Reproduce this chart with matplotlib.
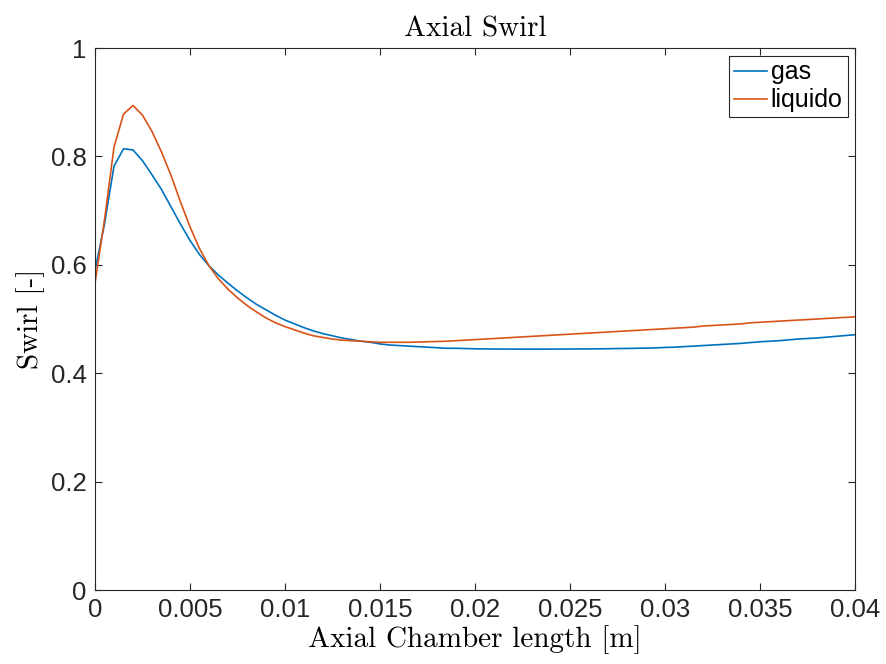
import numpy as np
import matplotlib.pyplot as plt

# axial positions [m], sampled every 0.5 mm
x = np.round(np.arange(0, 81) * 0.0005, 5)

swirl_gas = [
    0.590, 0.675, 0.782, 0.814, 0.812, 0.792, 0.766, 0.739, 0.707, 0.675,
    0.645, 0.619, 0.598, 0.581, 0.566, 0.552, 0.539, 0.527, 0.517, 0.507,
    0.498, 0.491, 0.484, 0.478, 0.473, 0.469, 0.465, 0.462, 0.459, 0.457,
    0.454, 0.452, 0.451, 0.450, 0.449, 0.448, 0.447, 0.446, 0.446, 0.4455,
    0.445, 0.4448, 0.4446, 0.4445, 0.4445, 0.4444, 0.4444, 0.4444, 0.4445, 0.4445,
    0.4446, 0.4447, 0.4448, 0.445, 0.4452, 0.4455, 0.4457, 0.446, 0.4463, 0.4467,
    0.4475, 0.448, 0.449, 0.450, 0.451, 0.452, 0.453, 0.454, 0.455, 0.4565,
    0.458, 0.459, 0.460, 0.4615, 0.463, 0.464, 0.465, 0.4665, 0.468, 0.4695,
    0.471,
]

swirl_liq = [
    0.566, 0.683, 0.817, 0.878, 0.894, 0.876, 0.846, 0.808, 0.765, 0.716,
    0.670, 0.630, 0.598, 0.574, 0.555, 0.539, 0.525, 0.513, 0.502, 0.493,
    0.486, 0.480, 0.474, 0.469, 0.466, 0.463, 0.461, 0.460, 0.459, 0.458,
    0.457, 0.457, 0.457, 0.457, 0.4575, 0.458, 0.4585, 0.459, 0.460, 0.461,
    0.462, 0.463, 0.464, 0.465, 0.466, 0.467, 0.468, 0.469, 0.470, 0.471,
    0.472, 0.473, 0.474, 0.475, 0.476, 0.477, 0.478, 0.479, 0.480, 0.481,
    0.482, 0.483, 0.484, 0.485, 0.487, 0.488, 0.489, 0.490, 0.491, 0.493,
    0.494, 0.495, 0.496, 0.497, 0.498, 0.499, 0.500, 0.501, 0.502, 0.503,
    0.504,
]

xticks = [0, 0.005, 0.01, 0.015, 0.02, 0.025, 0.03, 0.035, 0.04]
xtick_labels = ["0", "0.005", "0.01", "0.015", "0.02", "0.025", "0.03", "0.035", "0.04"]
yticks = [0, 0.2, 0.4, 0.6, 0.8, 1]
ytick_labels = ["0", "0.2", "0.4", "0.6", "0.8", "1"]

plt.rcParams["font.family"] = ["Liberation Sans", "DejaVu Sans"]
serif = ["cmr10", "DejaVu Serif"]
axcol = "#262626"

fig = plt.figure(figsize=(8.86, 6.64), dpi=100)
ax = fig.add_axes([95 / 886, 74 / 664, 760 / 886, 542 / 664])

ax.plot(x, swirl_gas, color="#0072BD", lw=1.2, label="gas")
ax.plot(x, swirl_liq, color="#D95319", lw=1.2, label="liquido")

ax.set_xlim(0, 0.04)
ax.set_ylim(0, 1)
ax.set_xticks(xticks)
ax.set_xticklabels(xtick_labels)
ax.set_yticks(yticks)
ax.set_yticklabels(ytick_labels)
ax.tick_params(direction="in", length=5, width=0.8, colors=axcol,
               labelsize=18.5, top=True, right=True, pad=6)
for s in ax.spines.values():
    s.set_color(axcol)
    s.set_linewidth(0.8)

ax.set_title("Axial Swirl", family=serif, fontsize=21, pad=8)
ax.set_xlabel("Axial Chamber length [m]", family=serif, fontsize=21, labelpad=2)
ax.set_ylabel("Swirl [-]", family=serif, fontsize=21, labelpad=4)

leg = ax.legend(loc="upper right", fontsize=18, fancybox=False, framealpha=1,
                handlelength=1.3, handletextpad=0.15, borderpad=0.2,
                labelspacing=0.15, borderaxespad=0.3)
leg.get_frame().set_edgecolor(axcol)
leg.get_frame().set_linewidth(0.8)

fig.savefig("out.png", dpi=100)
